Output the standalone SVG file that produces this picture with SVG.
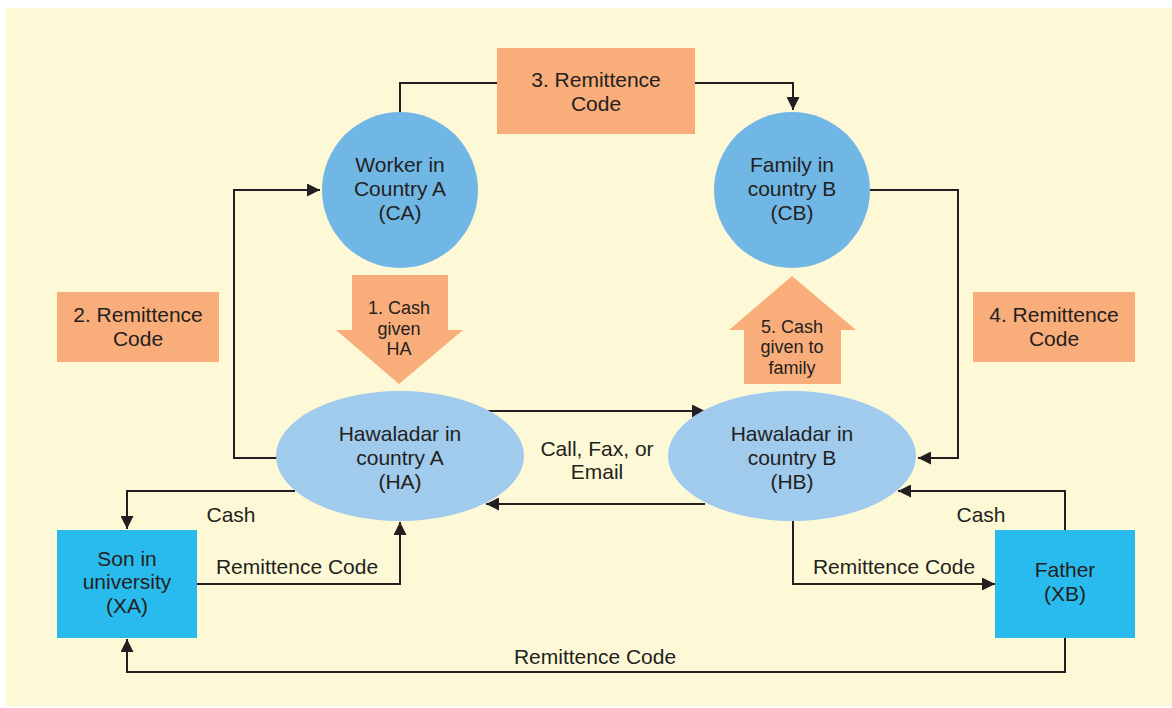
<svg xmlns="http://www.w3.org/2000/svg" width="1172" height="708" viewBox="0 0 1172 708">
  <style>
    text { font-family: "Liberation Sans", Arial, sans-serif; fill: #231f20; text-anchor: middle; }
    .t21 { font-size: 21px; }
    .t18 { font-size: 18px; }
    .lbl { font-size: 21px; }
    .conn { fill: none; stroke: #231f20; stroke-width: 2; }
    .step { fill: #f9ad7a; }
    .circ { fill: #71b7e6; }
    .ell { fill: #a0cbed; }
    .party { fill: #29bbed; }
  </style>
  <defs>
    <marker id="ah" viewBox="0 0 10 10" refX="10" refY="5" markerWidth="13" markerHeight="13" markerUnits="userSpaceOnUse" orient="auto">
      <path d="M0,0 L10,5 L0,10 Z" fill="#231f20"/>
    </marker>
  </defs>

  <rect x="6" y="8" width="1166" height="698" fill="#fdf9d7"/>

  <!-- connectors -->
  <g id="connectors">
    <polyline class="conn" points="400,112 400,83 497,83"/>
    <polyline class="conn" points="695,83 793,83 793,110" marker-end="url(#ah)"/>
    <polyline class="conn" points="277,458 234,458 234,190 320,190" marker-end="url(#ah)"/>
    <polyline class="conn" points="870,190 958,190 958,458 918,458" marker-end="url(#ah)"/>
    <line class="conn" x1="486" y1="411" x2="705" y2="411" marker-end="url(#ah)"/>
    <line class="conn" x1="705" y1="504" x2="486" y2="504" marker-end="url(#ah)"/>
    <polyline class="conn" points="295,491 127,491 127,529" marker-end="url(#ah)"/>
    <polyline class="conn" points="197,584 400,584 400,522" marker-end="url(#ah)"/>
    <polyline class="conn" points="1065,530 1065,491 898,491" marker-end="url(#ah)"/>
    <polyline class="conn" points="793,521 793,584 995,584" marker-end="url(#ah)"/>
    <polyline class="conn" points="1065,638 1065,672 127,672 127,639" marker-end="url(#ah)"/>
  </g>

  <!-- edge labels -->
  <g id="labels">
    <text class="lbl" x="231" y="522">Cash</text>
    <text class="lbl" x="297" y="574">Remittence Code</text>
    <text class="lbl" x="981" y="522">Cash</text>
    <text class="lbl" x="894" y="574">Remittence Code</text>
    <text class="lbl" x="595" y="664">Remittence Code</text>
    <text class="lbl" x="597" y="456">Call, Fax, or</text>
    <text class="lbl" x="597" y="479">Email</text>
  </g>

  <g id="worker">
    <circle class="circ" cx="400" cy="190" r="78"/>
    <text class="t21" x="400" y="172">Worker in</text>
    <text class="t21" x="400" y="196">Country A</text>
    <text class="t21" x="400" y="220">(CA)</text>
  </g>

  <g id="family">
    <circle class="circ" cx="792" cy="190" r="78"/>
    <text class="t21" x="792" y="172">Family in</text>
    <text class="t21" x="792" y="196">country B</text>
    <text class="t21" x="792" y="220">(CB)</text>
  </g>

  <g id="step3">
    <rect class="step" x="497" y="48" width="198" height="86"/>
    <text class="t21" x="596" y="87">3. Remittence</text>
    <text class="t21" x="596" y="111">Code</text>
  </g>

  <g id="step2">
    <rect class="step" x="57" y="292" width="162" height="70"/>
    <text class="t21" x="138" y="322">2. Remittence</text>
    <text class="t21" x="138" y="346">Code</text>
  </g>

  <g id="step4">
    <rect class="step" x="973" y="292" width="162" height="70"/>
    <text class="t21" x="1054" y="322">4. Remittence</text>
    <text class="t21" x="1054" y="346">Code</text>
  </g>

  <g id="step1">
    <polygon class="step" points="352,275 448,275 448,330 463,330 399,384 336,330 352,330"/>
    <text class="t18" x="399" y="314">1. Cash</text>
    <text class="t18" x="399" y="335">given</text>
    <text class="t18" x="399" y="355">HA</text>
  </g>

  <g id="step5">
    <polygon class="step" points="792,276 856,330 841,330 841,384 744,384 744,330 729,330"/>
    <text class="t18" x="792" y="333">5. Cash</text>
    <text class="t18" x="792" y="353">given to</text>
    <text class="t18" x="792" y="374">family</text>
  </g>

  <g id="hawaladarA">
    <ellipse class="ell" cx="400" cy="456" rx="124" ry="65"/>
    <text class="t21" x="400" y="441">Hawaladar in</text>
    <text class="t21" x="400" y="465">country A</text>
    <text class="t21" x="400" y="489">(HA)</text>
  </g>

  <g id="hawaladarB">
    <ellipse class="ell" cx="792" cy="456" rx="124" ry="65"/>
    <text class="t21" x="792" y="441">Hawaladar in</text>
    <text class="t21" x="792" y="465">country B</text>
    <text class="t21" x="792" y="489">(HB)</text>
  </g>

  <g id="son">
    <rect class="party" x="57" y="530" width="140" height="108"/>
    <text class="t21" x="127" y="566">Son in</text>
    <text class="t21" x="127" y="589">university</text>
    <text class="t21" x="127" y="613">(XA)</text>
  </g>

  <g id="father">
    <rect class="party" x="995" y="530" width="140" height="108"/>
    <text class="t21" x="1065" y="577">Father</text>
    <text class="t21" x="1065" y="601">(XB)</text>
  </g>
</svg>
